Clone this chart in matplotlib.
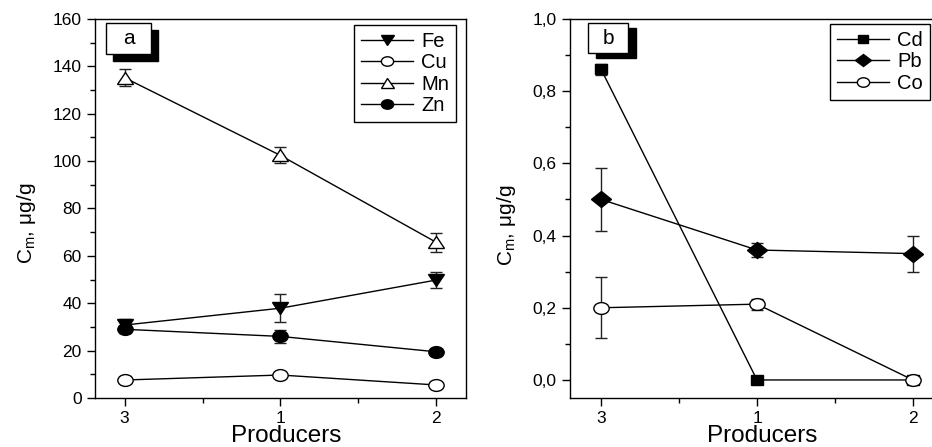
import numpy as np
import matplotlib.pyplot as plt
from matplotlib.markers import MarkerStyle
from matplotlib.transforms import Affine2D
from matplotlib.patches import Rectangle
from matplotlib.ticker import MultipleLocator

plt.rcParams['font.family'] = ['Liberation Sans', 'DejaVu Sans']
plt.rcParams['mathtext.fontset'] = 'custom'
plt.rcParams['mathtext.rm'] = 'Liberation Sans'
plt.rcParams['mathtext.it'] = 'Liberation Sans:italic'

#----------------------------------------------------------
producers = ['3', '1', '2']

# panel a
fe = [30.8, 37.9, 49.8]
fe_err = [2.5, 6.0, 3.3]
cu = [7.6, 9.7, 5.5]
cu_err = [1.0, 1.0, 0.8]
mn = [135.2, 102.4, 65.7]
mn_err = [3.5, 3.4, 4.0]
zn = [29.0, 26.0, 19.5]
zn_err = [1.5, 2.8, 1.0]

# panel b
cd = [0.86, 0.0, 0.0]
cd_err = [0.015, 0.0, 0.0]
pb = [0.50, 0.36, 0.35]
pb_err = [0.087, 0.02, 0.05]
co = [0.20, 0.21, 0.0]
co_err = [0.085, 0.015, 0.0]

yticks_b = [0.0, 0.2, 0.4, 0.6, 0.8, 1.0]
yticklabels_b = ['0,0', '0,2', '0,4', '0,6', '0,8', '1,0']

ylab = r'C$_\mathregular{m}$, μg/g'


#----------------------------------------------------------
def mk(m, sx=1.3):
	#markers in the source are a bit wider than tall
	return MarkerStyle(m, transform=Affine2D().scale(sx, 1))


def plt_series(ax, y, err, marker, filled, label, ms):
	x = np.arange(len(y))
	ax.errorbar(x, y, yerr=err, fmt='none', ecolor='#222222', elinewidth=1, capsize=4, capthick=1, zorder=2)
	ax.plot(x, y, color='black', lw=1, marker=mk(marker), ms=ms, mfc='black' if filled else 'white',
			mec='black', mew=1, label=label, zorder=3)


def panel_tag(ax, txt, x0, y0, w, h, dx, dy):
	ax.add_patch(Rectangle((x0+dx, y0-dy), w, h, transform=ax.transAxes, fc='black', ec='black', lw=1, zorder=5, clip_on=False))
	ax.add_patch(Rectangle((x0, y0), w, h, transform=ax.transAxes, fc='white', ec='black', lw=1, zorder=6, clip_on=False))
	ax.text(x0+w/2, y0+h/2, txt, transform=ax.transAxes, ha='center', va='center', fontsize=15, zorder=7)


def style_ax(ax):
	ax.set_xticks(range(len(producers)))
	ax.set_xticklabels(producers)
	ax.xaxis.set_minor_locator(MultipleLocator(0.5))
	ax.tick_params(which='major', direction='out', length=6, width=1, labelsize=12.5, top=False, right=False)
	ax.tick_params(which='minor', direction='out', length=3.5, width=1, top=False, right=False)
	for s in ax.spines.values():
		s.set_linewidth(1)
	ax.set_xlabel('Producers', fontsize=17.5)
	ax.xaxis.set_label_coords(0.515, -0.07)


def add_legend(ax, anchor):
	leg = ax.legend(loc='upper right', bbox_to_anchor=anchor, borderaxespad=0, fancybox=False, edgecolor='black',
				 framealpha=1, fontsize=14.5, handlelength=2.6, numpoints=1, labelspacing=0.12, handletextpad=0.4,
				 borderpad=0.35, markerscale=0.8)
	leg.get_frame().set_linewidth(1)


#############################################################################
fig = plt.figure(figsize=(9.32, 4.47), dpi=100)

#a
ax1 = fig.add_axes([0.1019, 0.1096, 0.398, 0.848])
plt_series(ax1, fe, fe_err, 'v', True, 'Fe', 9)
plt_series(ax1, cu, cu_err, 'o', False, 'Cu', 8.5)
plt_series(ax1, mn, mn_err, '^', False, 'Mn', 9)
plt_series(ax1, zn, zn_err, 'o', True, 'Zn', 8.5)
ax1.set_xlim(-0.19, 2.19)
ax1.set_ylim(0, 160)
ax1.yaxis.set_major_locator(MultipleLocator(20))
ax1.yaxis.set_minor_locator(MultipleLocator(10))
style_ax(ax1)
ax1.set_ylabel(ylab, fontsize=15)
ax1.yaxis.set_label_coords(-0.154, 0.46)
add_legend(ax1, (0.973, 0.984))
panel_tag(ax1, 'a', 0.030, 0.908, 0.121, 0.081, 0.019, 0.018)

#b
ax2 = fig.add_axes([0.6116, 0.1096, 0.4013, 0.848])
plt_series(ax2, cd, cd_err, 's', True, 'Cd', 7)
plt_series(ax2, pb, pb_err, 'D', True, 'Pb', 8)
plt_series(ax2, co, co_err, 'o', False, 'Co', 8.5)
ax2.set_xlim(-0.2, 2.2)
ax2.set_ylim(-0.05, 1.0)
ax2.set_yticks(yticks_b)
ax2.set_yticklabels(yticklabels_b)
ax2.yaxis.set_minor_locator(MultipleLocator(0.1))
style_ax(ax2)
ax2.set_ylabel(ylab, fontsize=15)
ax2.yaxis.set_label_coords(-0.139, 0.456)
add_legend(ax2, (0.963, 0.987))
panel_tag(ax2, 'b', 0.048, 0.910, 0.107, 0.079, 0.021, 0.013)

plt.savefig('out.png', dpi=100)
plt.close()
